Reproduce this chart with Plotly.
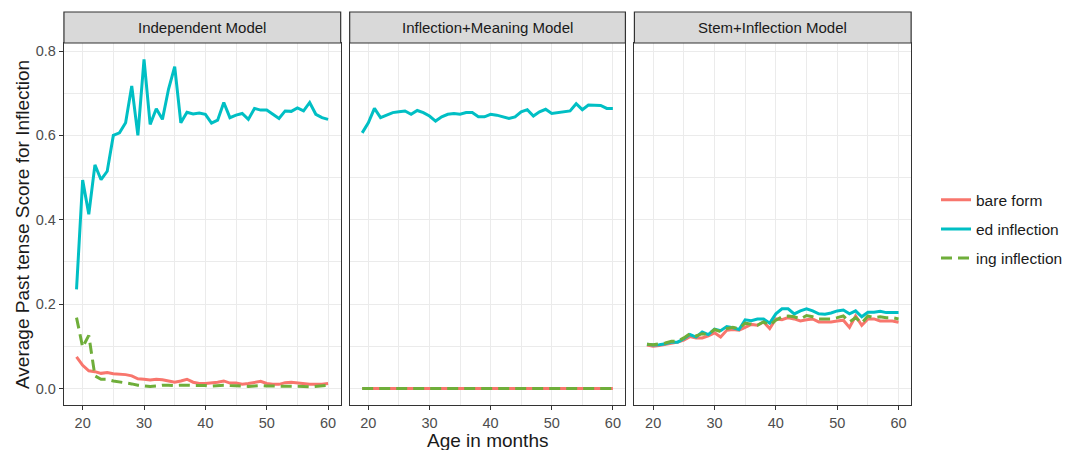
import plotly.graph_objects as go

months = list(range(19, 61))
panels = ["Independent Model", "Inflection+Meaning Model", "Stem+Inflection Model"]
series_names = ["bare form", "ed inflection", "ing inflection"]

ind_bare = [0.075, 0.055, 0.042, 0.040, 0.036, 0.038, 0.035, 0.034, 0.033, 0.030, 0.023, 0.022, 0.020, 0.022,
            0.021, 0.018, 0.015, 0.018, 0.022, 0.015, 0.012, 0.012, 0.013, 0.015, 0.018, 0.013, 0.013, 0.010,
            0.012, 0.015, 0.017, 0.012, 0.010, 0.010, 0.014, 0.015, 0.013, 0.012, 0.010, 0.010, 0.010, 0.012]
ind_ed = [0.235, 0.494, 0.413, 0.530, 0.495, 0.515, 0.600, 0.606, 0.630, 0.717, 0.600, 0.780, 0.626, 0.663,
          0.638, 0.710, 0.763, 0.630, 0.655, 0.651, 0.653, 0.650, 0.629, 0.636, 0.678, 0.642, 0.648, 0.652,
          0.638, 0.664, 0.660, 0.660, 0.650, 0.640, 0.658, 0.657, 0.665, 0.658, 0.678, 0.650, 0.642, 0.638]
ind_ing = [0.168, 0.098, 0.126, 0.030, 0.022, 0.022, 0.018, 0.016, 0.014, 0.011, 0.008, 0.006, 0.005, 0.006,
           0.008, 0.008, 0.007, 0.008, 0.008, 0.007, 0.007, 0.007, 0.006, 0.007, 0.008, 0.007, 0.006, 0.006,
           0.005, 0.006, 0.007, 0.006, 0.006, 0.006, 0.006, 0.006, 0.005, 0.005, 0.004, 0.005, 0.006, 0.008]

im_bare = [0.0, 0.0, 0.0, 0.0, 0.0, 0.0, 0.0, 0.0, 0.0, 0.0, 0.0, 0.0, 0.0, 0.0,
           0.0, 0.0, 0.0, 0.0, 0.0, 0.0, 0.0, 0.0, 0.0, 0.0, 0.0, 0.0, 0.0, 0.0,
           0.0, 0.0, 0.0, 0.0, 0.0, 0.0, 0.0, 0.0, 0.0, 0.0, 0.0, 0.0, 0.0, 0.0]
im_ed = [0.606, 0.630, 0.664, 0.642, 0.648, 0.654, 0.656, 0.658, 0.650, 0.659, 0.654, 0.646, 0.634, 0.644,
         0.650, 0.652, 0.650, 0.654, 0.654, 0.644, 0.644, 0.650, 0.648, 0.644, 0.640, 0.644, 0.656, 0.661,
         0.646, 0.656, 0.662, 0.652, 0.654, 0.656, 0.658, 0.675, 0.661, 0.672, 0.671, 0.671, 0.664, 0.664]
im_ing = [0.0, 0.0, 0.0, 0.0, 0.0, 0.0, 0.0, 0.0, 0.0, 0.0, 0.0, 0.0, 0.0, 0.0,
          0.0, 0.0, 0.0, 0.0, 0.0, 0.0, 0.0, 0.0, 0.0, 0.0, 0.0, 0.0, 0.0, 0.0,
          0.0, 0.0, 0.0, 0.0, 0.0, 0.0, 0.0, 0.0, 0.0, 0.0, 0.0, 0.0, 0.0, 0.0]

si_bare = [0.103, 0.100, 0.102, 0.105, 0.108, 0.110, 0.115, 0.123, 0.120, 0.120, 0.125, 0.132, 0.122, 0.138,
           0.140, 0.138, 0.145, 0.152, 0.150, 0.158, 0.142, 0.165, 0.163, 0.168, 0.165, 0.160, 0.163, 0.165,
           0.158, 0.158, 0.158, 0.160, 0.162, 0.145, 0.172, 0.150, 0.165, 0.165, 0.160, 0.160, 0.160, 0.157]
si_ed = [0.105, 0.103, 0.104, 0.106, 0.110, 0.110, 0.118, 0.128, 0.122, 0.134, 0.128, 0.141, 0.137, 0.147,
         0.144, 0.140, 0.163, 0.161, 0.165, 0.165, 0.155, 0.177, 0.189, 0.189, 0.177, 0.184, 0.189, 0.184,
         0.177, 0.176, 0.179, 0.184, 0.186, 0.177, 0.184, 0.170, 0.181, 0.181, 0.183, 0.180, 0.180, 0.180]
si_ing = [0.105, 0.104, 0.106, 0.108, 0.112, 0.112, 0.120, 0.130, 0.125, 0.130, 0.128, 0.140, 0.135, 0.142,
          0.145, 0.142, 0.155, 0.153, 0.150, 0.158, 0.150, 0.162, 0.170, 0.172, 0.170, 0.165, 0.173, 0.170,
          0.165, 0.165, 0.165, 0.168, 0.172, 0.158, 0.168, 0.155, 0.172, 0.168, 0.170, 0.168, 0.168, 0.165]

x_ticks = [20, 30, 40, 50, 60]
y_ticks = [0.0, 0.2, 0.4, 0.6, 0.8]
y_tick_labels = ["0.0", "0.2", "0.4", "0.6", "0.8"]

data = [
    [ind_bare, ind_ed, ind_ing],
    [im_bare, im_ed, im_ing],
    [si_bare, si_ed, si_ing],
]
colors = ["#F8766D", "#00BFC4", "#6FAE3A"]
dashes = ["solid", "solid", "11px,6px"]

W, H = 1068, 450
FONT = "Liberation Sans, Arial, Helvetica, sans-serif"
px_domains = [(64, 341), (350, 626), (635, 912)]
y_bot_px, y_top_px = 405, 43
strip_top_px = 12
ydom = [1 - y_bot_px / H, 1 - y_top_px / H]

fig = go.Figure()
for p in range(3):
    for s in range(3):
        fig.add_trace(go.Scatter(
            x=months, y=data[p][s], mode="lines", name=series_names[s],
            legendgroup=series_names[s], showlegend=(p == 0),
            line=dict(color=colors[s], width=3, dash=dashes[s]),
            xaxis="x" if p == 0 else f"x{p+1}", yaxis="y" if p == 0 else f"y{p+1}",
        ))

layout = dict(
    width=W, height=H, margin=dict(l=0, r=0, t=0, b=0),
    paper_bgcolor="white", plot_bgcolor="white",
    font=dict(family=FONT, color="#1a1a1a"),
    legend=dict(x=0.877, y=0.593, xanchor="left", yanchor="top",
                font=dict(size=15.5, color="#1a1a1a"), tracegroupgap=6,
                traceorder="grouped", bgcolor="rgba(0,0,0,0)"),
    shapes=[], annotations=[],
)
for p in range(3):
    sx = "" if p == 0 else str(p + 1)
    x0, x1 = px_domains[p]
    layout["xaxis" + sx] = dict(
        domain=[x0 / W, x1 / W], range=[16.95, 62.05], anchor="y" + sx,
        tickvals=x_ticks, ticks="outside", ticklen=4, tickcolor="#333333", tickwidth=1,
        tickfont=dict(size=14.5, color="#4D4D4D"),
        showgrid=True, gridcolor="#EBEBEB", gridwidth=1.2,
        minor=dict(tickvals=[25, 35, 45, 55], showgrid=True, gridcolor="#EBEBEB", gridwidth=0.6, ticks=""),
        showline=True, linecolor="#333333", linewidth=1.2, mirror=True, zeroline=False,
    )
    layout["yaxis" + sx] = dict(
        domain=ydom, range=[-0.039, 0.819], anchor="x" + sx,
        tickvals=y_ticks, ticktext=y_tick_labels,
        showticklabels=(p == 0), ticks="outside" if p == 0 else "", ticklen=4,
        tickcolor="#333333", tickwidth=1,
        tickfont=dict(size=14.5, color="#4D4D4D"),
        showgrid=True, gridcolor="#EBEBEB", gridwidth=1.2,
        minor=dict(tickvals=[0.1, 0.3, 0.5, 0.7], showgrid=True, gridcolor="#EBEBEB", gridwidth=0.6, ticks=""),
        showline=True, linecolor="#333333", linewidth=1.2, mirror=True, zeroline=False,
    )
    layout["shapes"].append(dict(
        type="rect", xref="paper", yref="paper",
        x0=x0 / W, x1=x1 / W, y0=1 - y_top_px / H, y1=1 - strip_top_px / H,
        fillcolor="#D9D9D9", line=dict(color="#333333", width=1.2), layer="above",
    ))
    layout["annotations"].append(dict(
        text=panels[p], xref="paper", yref="paper",
        x=(x0 + x1) / 2 / W, y=1 - (strip_top_px + y_top_px) / 2 / H,
        xanchor="center", yanchor="middle", showarrow=False,
        font=dict(size=15, color="#1a1a1a"),
    ))

layout["annotations"].append(dict(
    text="Age in months", xref="paper", yref="paper",
    x=(64 + 912) / 2 / W, y=1 - 428 / H, xanchor="center", yanchor="top",
    showarrow=False, font=dict(size=19, color="#1a1a1a"),
))
layout["annotations"].append(dict(
    text="Average Past tense Score for Inflection", xref="paper", yref="paper",
    x=22 / W, y=1 - (y_top_px + y_bot_px) / 2 / H, xanchor="center", yanchor="middle",
    textangle=-90, showarrow=False, font=dict(size=19, color="#1a1a1a"),
))

fig.update_layout(**layout)
fig.write_html("out.html")
